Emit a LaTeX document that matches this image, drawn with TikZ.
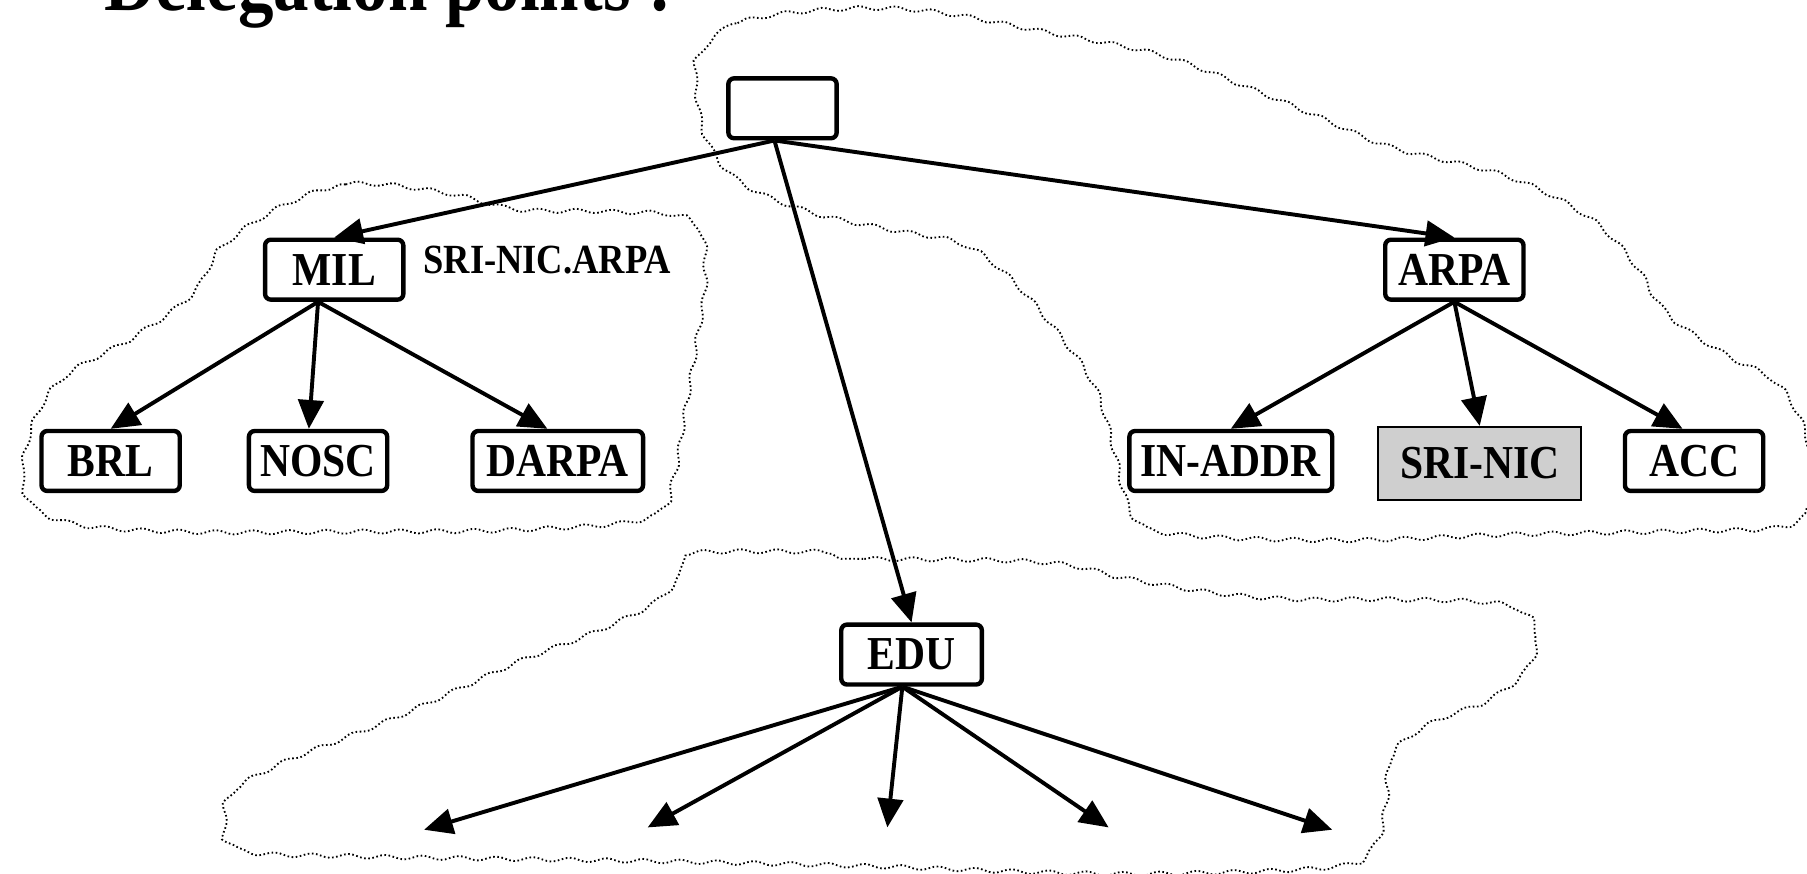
\documentclass[tikz,border=0pt]{standalone}
\usepackage{fontspec}
\setmainfont{Liberation Serif}[FakeStretch=0.88]
\usepackage{tikz}
\usetikzlibrary{arrows.meta}
\usetikzlibrary{decorations.pathmorphing}

\tikzset{
  dom/.style={draw, line width=1.9pt, rounded corners=2.5pt, minimum width=60pt,
    minimum height=26pt, inner sep=0pt, font=\fontsize{20.5}{22}\selectfont\bfseries},
  nicbox/.style={dom, rounded corners=0pt, line width=0.9pt, fill=black!19, minimum height=31.5pt},
  deleg/.style={line width=1.7pt, -{Triangle[length=12.5pt,width=11pt]}},
  zone/.style={draw, line width=0.8pt, dash pattern=on 0.7pt off 1.1pt, decorate,
    decoration={snake, amplitude=0.9pt, segment length=16pt}},
}

\begin{document}
\begin{tikzpicture}[x=0.5pt, y=-0.5pt]
    \useasboundingbox (0,0) rectangle (1568,758);
    \node[anchor=base west, inner sep=0pt, font=\fontsize{35}{38}\selectfont\bfseries] (title) at (90,9) {Delegation points :};
    \draw[zone] plot[smooth cycle, tension=0.6] coordinates {(603,45) (640,20) (720,10) (800,12) (900,30) (1000,50) (1080,80) (1140,105) (1200,130) (1300,155) (1370,190) (1410,230) (1440,275) (1490,310) (1535,335) (1560,380) (1563,430) (1545,457) (1450,462) (1300,465) (1150,470) (1000,463) (975,440) (962,390) (945,335) (910,285) (870,240) (830,212) (770,200) (700,185) (640,160) (610,125) (600,80)};
    \draw[zone] plot[smooth cycle, tension=0.6] coordinates {(240,178) (300,160) (380,168) (440,182) (520,184) (593,192) (604,240) (596,300) (586,360) (575,420) (555,450) (450,460) (300,462) (150,462) (55,455) (15,432) (17,380) (45,330) (110,292) (160,255) (185,215)};
    \draw[zone] plot[smooth cycle, tension=0.6] coordinates {(600,485) (750,485) (900,488) (970,502) (1050,515) (1120,520) (1200,520) (1300,525) (1325,548) (1318,580) (1285,607) (1235,627) (1200,655) (1195,700) (1185,735) (1150,752) (1000,758) (900,757) (760,752) (600,748) (420,745) (300,743) (200,738) (186,712) (192,685) (235,660) (285,640) (335,620) (390,595) (445,570) (510,545) (560,520) (582,497)};
    \node[dom, minimum width=47pt] (root) at (679,94) {};
    \node[dom] (mil) at (290,234) {MIL};
    \node[anchor=west, inner sep=0pt, font=\fontsize{18}{20}\selectfont\bfseries] (milhost) at (367,226) {SRI-NIC.ARPA};
    \node[dom] (brl) at (96,400) {BRL};
    \node[dom] (nosc) at (276,400) {NOSC};
    \node[dom, minimum width=74pt] (darpa) at (484,400) {DARPA};
    \node[dom] (arpa) at (1262,234) {ARPA};
    \node[dom, minimum width=88pt] (inaddr) at (1068,400) {IN-ADDR};
    \node[nicbox, minimum width=88pt] (srinic) at (1284,402) {SRI-NIC};
    \node[dom] (acc) at (1470,400) {ACC};
    \node[dom, minimum width=61pt] (edu) at (791,568) {EDU};
    \coordinate (rootout) at ([xshift=-3.5pt]root.south);
    \coordinate (milout) at ([xshift=-7pt]mil.south);
    \coordinate (eduout) at ([xshift=-4pt]edu.south);
    \coordinate (sub1) at (368,720);
    \coordinate (sub2) at (562,718);
    \coordinate (sub3) at (770,718);
    \coordinate (sub4) at (962,718);
    \coordinate (sub5) at (1156,720);
    \draw[deleg] (rootout) -- (mil.north);
    \draw[deleg] (rootout) -- (arpa.north);
    \draw[deleg] (rootout) -- (edu.north);
    \draw[deleg] (milout) -- (brl.north);
    \draw[deleg] (milout) -- ([xshift=-4pt]nosc.north);
    \draw[deleg] (milout) -- ([xshift=-4.5pt]darpa.north);
    \draw[deleg] (arpa.south) -- (inaddr.north);
    \draw[deleg] (arpa.south) -- (srinic.north);
    \draw[deleg] (arpa.south) -- ([xshift=-5pt]acc.north);
    \foreach \s in {sub1,sub2,sub3,sub4,sub5}
        \draw[deleg] (eduout) -- (\s);
  \end{tikzpicture}
\end{document}
